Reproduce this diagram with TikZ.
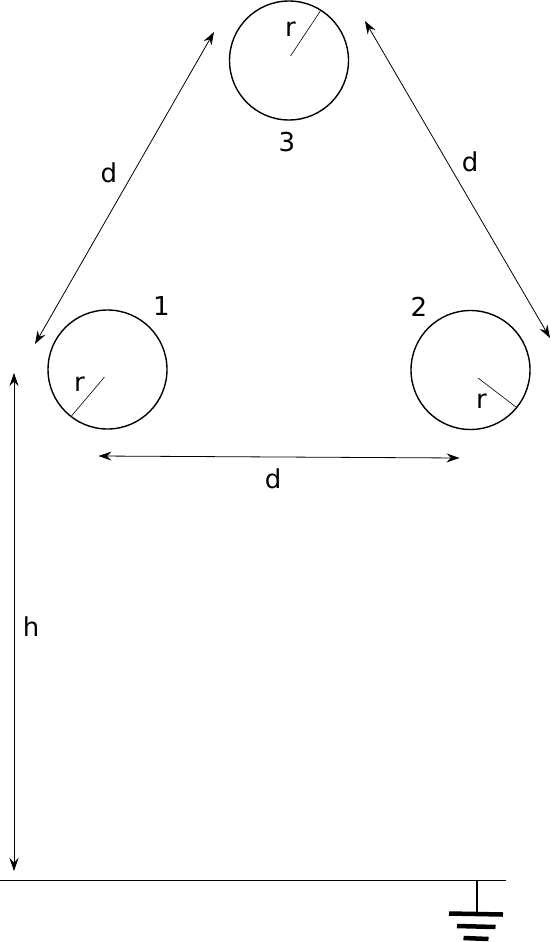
\documentclass[tikz,border=0pt]{standalone}
\usepackage{fontspec}
\setmainfont{DejaVu Sans}
\usetikzlibrary{arrows.meta}
\begin{document}
\begin{tikzpicture}[x=1pt,y=-1pt,
  wire/.style={draw=black,line width=1.4pt,circle,minimum size=119pt,inner sep=0pt},
  radius/.style={draw=black,line width=0.6pt},
  dim/.style={draw=black,line width=0.8pt,{Stealth[length=13pt,width=9pt,inset=4.5pt]}-{Stealth[length=13pt,width=9pt,inset=4.5pt]}},
  lbl/.style={font=\fontsize{26pt}{30pt}\selectfont,inner sep=0pt,text=black},
  gnd/.style={draw=black,line cap=butt}]
\useasboundingbox (0,0) rectangle (550,942);
\node[wire] (c1) at (107.5,369.5) {};
\node[wire] (c2) at (470.5,370) {};
\node[wire] (c3) at (289,60.5) {};
% radii
\coordinate (r1a) at (104.5,377);
\coordinate (r1b) at (71.5,416);
\coordinate (r2a) at (478,378);
\coordinate (r2b) at (516,407);
\coordinate (r3a) at (290.5,56);
\coordinate (r3b) at (321,10);
\draw[radius] (r1a) -- (r1b);
\draw[radius] (r2a) -- (r2b);
\draw[radius] (r3a) -- (r3b);
% dimensions
\coordinate (d1a) at (214,32);
\coordinate (d1b) at (35,344);
\coordinate (d2a) at (365,21);
\coordinate (d2b) at (550,338);
\coordinate (d3a) at (98.5,456);
\coordinate (d3b) at (459.5,458);
\coordinate (ha) at (14,373);
\coordinate (hb) at (14,871);
\draw[dim] (d1a) -- (d1b);
\draw[dim] (d2a) -- (d2b);
\draw[dim] (d3a) -- (d3b);
\draw[dim] (ha) -- (hb);
% ground
\coordinate (g0) at (0,880.5);
\coordinate (g1) at (506,880.5);
\coordinate (g2) at (476.5,880.5);
\coordinate (g3) at (476.5,913);
\draw[gnd,line width=1pt] (g0) -- (g1);
\draw[gnd,line width=2pt] (g2) -- (g3);
\coordinate (b1a) at (449,913.5);
\coordinate (b1b) at (503,914.5);
\coordinate (b2a) at (457,926);
\coordinate (b2b) at (495.5,927);
\coordinate (b3a) at (463.5,938);
\coordinate (b3b) at (488.5,939);
\draw[gnd,line width=4.5pt] (b1a) -- (b1b);
\draw[gnd,line width=4.5pt] (b2a) -- (b2b);
\draw[gnd,line width=4.5pt] (b3a) -- (b3b);
% labels
\node[lbl] (l1) at (161.5,306) {1};
\node[lbl] (l2) at (419,307) {2};
\node[lbl] (l3) at (287,142) {3};
\node[lbl] (rl1) at (79.5,384) {r};
\node[lbl] (rl2) at (481.5,401) {r};
\node[lbl] (rl3) at (290.5,29.5) {r};
\node[lbl] (dl1) at (109,173) {d};
\node[lbl] (dl2) at (470,162) {d};
\node[lbl] (dl3) at (273,479) {d};
\node[lbl] (hl) at (31,627) {h};
\end{tikzpicture}
\end{document}
